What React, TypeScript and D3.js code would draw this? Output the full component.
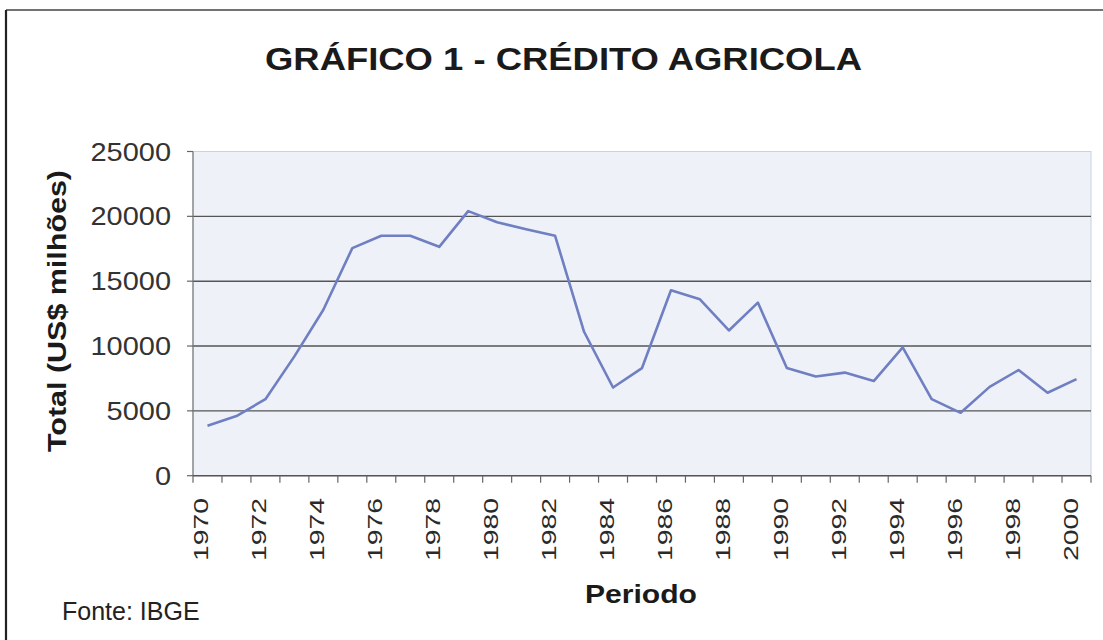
import React from "react";
import * as d3 from "d3";

const years: string[] = [
  "1970","1971","1972","1973","1974","1975","1976","1977","1978","1979",
  "1980","1981","1982","1983","1984","1985","1986","1987","1988","1989",
  "1990","1991","1992","1993","1994","1995","1996","1997","1998","1999","2000",
];
const credito: number[] = [
  3850, 4600, 5900, 9200, 12800, 17550, 18500, 18500, 17650, 20400,
  19550, 19000, 18500, 11100, 6800, 8300, 14300, 13600, 11200, 13350,
  8300, 7650, 7950, 7300, 9900, 5900, 4850, 6850, 8150, 6400, 7450,
];
const yTicks: number[] = [0, 5000, 10000, 15000, 20000, 25000];
const xTickLabels: string[] = [
  "1970","1972","1974","1976","1978","1980","1982","1984",
  "1986","1988","1990","1992","1994","1996","1998","2000",
];
const titleText = "GRÁFICO 1 - CRÉDITO AGRICOLA";
const yAxisTitle = "Total (US$ milhões)";
const xAxisTitle = "Periodo";
const sourceText = "Fonte: IBGE";

export default function App() {
  const W = 1103, H = 640;
  const left = 193, right = 1091, top = 151.5, bottom = 475.7;
  const x = d3.scaleBand<string>().domain(years).range([left, right]).paddingInner(0).paddingOuter(0);
  const y = d3.scaleLinear().domain([0, 25000]).range([bottom, top]);
  const cx = (yr: string) => (x(yr) as number) + x.bandwidth() / 2;
  const line = d3.line<number>().x((_, i) => cx(years[i])).y((v) => y(v));
  const font = "'Liberation Sans', Arial, sans-serif";
  const boundaries = d3.range(years.length + 1).map((i) => left + i * x.bandwidth());

  return (
    <svg width={W} height={H} style={{ position: "absolute", left: 0, top: 0, background: "#fff" }}>
      <rect x={0} y={0} width={W} height={H} fill="#fff" />
      {/* outer frame */}
      <line x1={6} y1={10} x2={W + 5} y2={10} stroke="#444" strokeWidth={1.6} />
      <line x1={6} y1={10} x2={6} y2={H + 5} stroke="#222" strokeWidth={2.2} />

      {/* title */}
      <text x={265} y={70} fontFamily={font} fontWeight="bold" fontSize={31} fill="#1a1a1a"
        textLength={597} lengthAdjust="spacingAndGlyphs">{titleText}</text>

      {/* plot area */}
      <rect x={left} y={top} width={right - left} height={bottom - top} fill="#eef2f8" stroke="#c9d2de" strokeWidth={1} />
      {yTicks.filter((t) => t > 0 && t < 25000).map((t) => (
        <line key={"g" + t} x1={left} x2={right} y1={y(t)} y2={y(t)} stroke="#555" strokeWidth={1.4} />
      ))}
      {/* axes */}
      <line x1={left} x2={left} y1={top} y2={bottom} stroke="#777" strokeWidth={1.2} />
      <line x1={left} x2={right} y1={bottom} y2={bottom} stroke="#555" strokeWidth={1.4} />
      {yTicks.map((t) => (
        <g key={"yt" + t}>
          <line x1={left - 6} x2={left} y1={y(t)} y2={y(t)} stroke="#666" strokeWidth={1.2} />
          <text x={171} y={y(t)} dy="0.36em" textAnchor="end" fontFamily={font} fontSize={25} fill="#333"
            textLength={String(t).length * 16.1} lengthAdjust="spacingAndGlyphs">{t}</text>
        </g>
      ))}
      {boundaries.map((b, i) => (
        <line key={"xt" + i} x1={b} x2={b} y1={bottom} y2={bottom + 7} stroke="#666" strokeWidth={1.2} />
      ))}
      {xTickLabels.map((lab) => (
        <text key={"xl" + lab} transform={`translate(${cx(lab) + 1},498) rotate(-90)`} textAnchor="end"
          fontFamily={font} fontSize={20.5} fill="#2a2a2a" textLength={63} lengthAdjust="spacingAndGlyphs">{lab}</text>
      ))}

      {/* data line */}
      <path d={line(credito) || ""} fill="none" stroke="#6f7fc2" strokeWidth={2.6} strokeLinejoin="round" />

      {/* axis titles */}
      <text transform="translate(66,311) rotate(-90)" textAnchor="middle" fontFamily={font} fontWeight="bold"
        fontSize={25} fill="#1a1a1a" textLength={282} lengthAdjust="spacingAndGlyphs">{yAxisTitle}</text>
      <text x={585} y={603} fontFamily={font} fontWeight="bold" fontSize={26} fill="#1a1a1a"
        textLength={112} lengthAdjust="spacingAndGlyphs">{xAxisTitle}</text>
      <text x={62} y={620} fontFamily={font} fontSize={25} fill="#222">{sourceText}</text>
    </svg>
  );
}
